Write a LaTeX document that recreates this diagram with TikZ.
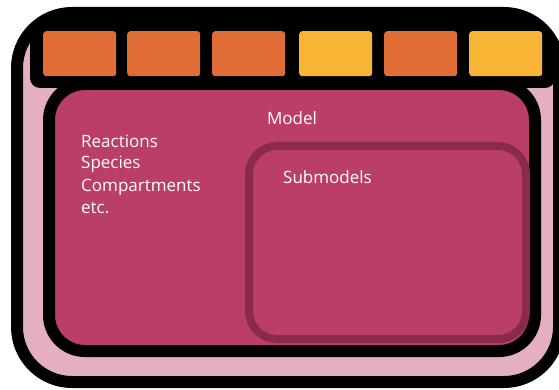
\documentclass[tikz,border=0pt]{standalone}
\usepackage{fontspec}
\setmainfont{Open Sans}
\definecolor{cOrange}{HTML}{E06C36}
\definecolor{cYellow}{HTML}{F8B535}
\definecolor{cModel}{HTML}{BB3E69}
\definecolor{cPink}{HTML}{E4AFC0}
\definecolor{cSub}{HTML}{8A2A4C}
\tikzset{
  orangebox/.style={fill=cOrange, rounded corners=3pt, draw=none},
  yellowbox/.style={fill=cYellow, rounded corners=3pt, draw=none},
  lbl/.style={text=white, font=\fontsize{17}{22}\selectfont, inner sep=0pt}
}
\begin{document}
\begin{tikzpicture}[x=1pt,y=-1pt]
\useasboundingbox (0,0) rectangle (559,390);
% outer frame
\fill[cPink, rounded corners=55pt] (17,13) rectangle (559,382);
% top bar, clipped to the frame
\begin{scope}
\clip[rounded corners=55pt] (17,13) rectangle (559,382);
\fill[black, rounded corners=10pt] (30,0) rectangle (555,88);
\end{scope}
\draw[line width=12pt, rounded corners=55pt] (17,13) rectangle (559,382);
% model
\draw[line width=12pt, fill=cModel, rounded corners=36pt] (49,84) rectangle (535,351);
% submodel
\draw[line width=8pt, draw=cSub, rounded corners=28pt] (249,146) rectangle (526,339);
% boxes
\node[orangebox, minimum width=73pt, minimum height=45pt, anchor=north west] (b1) at (43,31) {};
\node[orangebox, minimum width=73pt, minimum height=45pt, anchor=north west] (b2) at (127,31) {};
\node[orangebox, minimum width=73pt, minimum height=45pt, anchor=north west] (b3) at (212,31) {};
\node[yellowbox, minimum width=73pt, minimum height=45pt, anchor=north west] (b4) at (299,31) {};
\node[orangebox, minimum width=73pt, minimum height=45pt, anchor=north west] (b5) at (384,31) {};
\node[yellowbox, minimum width=73pt, minimum height=45pt, anchor=north west] (b6) at (469,31) {};
% texts
\node[lbl, anchor=base] (model) at (292,125) {Model};
\node[lbl, anchor=base west, align=left] (list) at (81,213) {Reactions\\Species\\Compartments\\etc.};
\node[lbl, anchor=base west] (sub) at (283,183) {Submodels};
\end{tikzpicture}
\end{document}
